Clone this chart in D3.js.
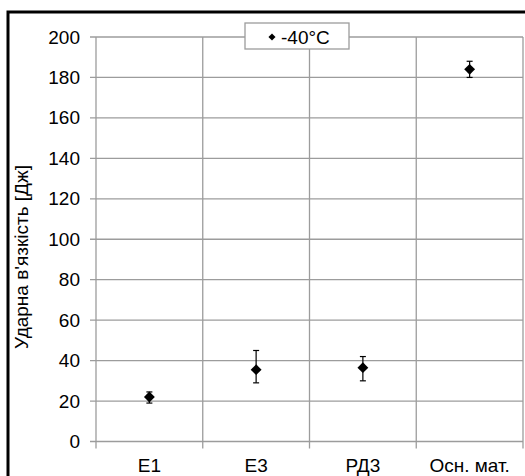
<html>
<head>
    <meta charset="utf-8">
    <title>Ударна в'язкість</title>
    <script src="https://cdn.jsdelivr.net/npm/d3@7/dist/d3.min.js"></script>
    <style>
        body { margin: 0; background: #fff; }
        text { font-family: "Liberation Sans", Arial, sans-serif; }
    </style>
</head>
<body>
<script>
    var categories = ["E1", "E3", "РД3", "Осн. мат."];
    var means = [22, 35.5, 36.5, 184];
    var lows = [19, 29, 30, 180];
    var highs = [24.5, 45, 42, 188];
    var yTicks = [0, 20, 40, 60, 80, 100, 120, 140, 160, 180, 200];
    var seriesName = "-40°C";

    var width = 525, height = 476;
    var plot = {left: 96, right: 523, top: 37, bottom: 441.5};
    var font = "'Liberation Sans', Arial, sans-serif";

    var svg = d3.select("body").append("svg")
        .attr("width", width)
        .attr("height", height);

    svg.append("rect").attr("width", width).attr("height", height).attr("fill", "#fff");

    // outer frame
    svg.append("rect")
        .attr("x", 8).attr("y", 12)
        .attr("width", 530).attr("height", 480)
        .attr("fill", "none")
        .attr("stroke", "#000")
        .attr("stroke-width", 3);

    var x = d3.scaleBand().domain(categories).range([plot.left, plot.right]);
    var y = d3.scaleLinear().domain([0, 200]).range([plot.bottom, plot.top]);

    // horizontal grid
    svg.append("g").selectAll("line").data(yTicks).enter().append("line")
        .attr("x1", plot.left - 6).attr("x2", plot.right)
        .attr("y1", function(d){ return y(d); })
        .attr("y2", function(d){ return y(d); })
        .attr("stroke", "#9c9c9c").attr("stroke-width", 1.3);

    // vertical grid on category boundaries
    var bounds = categories.map(function(c){ return x(c); }).concat([plot.right]);
    svg.append("g").selectAll("line").data(bounds).enter().append("line")
        .attr("x1", function(d){ return d; }).attr("x2", function(d){ return d; })
        .attr("y1", plot.top).attr("y2", plot.bottom + 7)
        .attr("stroke", "#9c9c9c").attr("stroke-width", 1.3);

    // y axis labels
    var yAxis = d3.axisLeft(y).tickValues(yTicks).tickSize(0).tickPadding(16);
    var gy = svg.append("g").attr("transform", "translate(" + plot.left + ",0)").call(yAxis);
    gy.select(".domain").remove();
    gy.selectAll("text").attr("font-size", "19px").attr("fill", "#000")
        .style("font-family", font);

    // x axis labels
    var xAxis = d3.axisBottom(x).tickSize(0).tickPadding(17);
    var gx = svg.append("g").attr("transform", "translate(0," + plot.bottom + ")").call(xAxis);
    gx.select(".domain").remove();
    gx.selectAll("text").attr("font-size", "19px").attr("fill", "#000")
        .style("font-family", font);

    // y title
    svg.append("text")
        .attr("transform", "translate(28,257) rotate(-90)")
        .attr("text-anchor", "middle")
        .attr("font-size", "19px")
        .text("Ударна в'язкість [Дж]");

    var data = categories.map(function(c, i){
        return {cat: c, v: means[i], lo: lows[i], hi: highs[i]};
    });
    var cx = function(d){ return x(d.cat) + x.bandwidth() / 2; };

    // error bars
    var eb = svg.append("g").selectAll("g").data(data).enter().append("g");
    eb.append("line")
        .attr("x1", cx).attr("x2", cx)
        .attr("y1", function(d){ return y(d.lo); })
        .attr("y2", function(d){ return y(d.hi); })
        .attr("stroke", "#000").attr("stroke-width", 1.2);
    ["lo", "hi"].forEach(function(k){
        eb.append("line")
            .attr("x1", function(d){ return cx(d) - 3; })
            .attr("x2", function(d){ return cx(d) + 3; })
            .attr("y1", function(d){ return y(d[k]); })
            .attr("y2", function(d){ return y(d[k]); })
            .attr("stroke", "#000").attr("stroke-width", 1.2);
    });

    // diamond markers
    var diamond = d3.symbol().type(d3.symbolDiamond2).size(75);
    svg.append("g").selectAll("path").data(data).enter().append("path")
        .attr("d", diamond)
        .attr("transform", function(d){ return "translate(" + cx(d) + "," + y(d.v) + ")"; })
        .attr("fill", "#000");

    // legend
    var lg = svg.append("g");
    lg.append("rect")
        .attr("x", 245).attr("y", 23).attr("width", 104).attr("height", 26)
        .attr("fill", "#fff").attr("stroke", "#9c9c9c").attr("stroke-width", 1.3);
    lg.append("path")
        .attr("d", d3.symbol().type(d3.symbolDiamond2).size(32))
        .attr("transform", "translate(272,37)")
        .attr("fill", "#000");
    lg.append("text")
        .attr("x", 281).attr("y", 44)
        .attr("font-size", "19px")
        .text(seriesName);
</script>
</body>
</html>
